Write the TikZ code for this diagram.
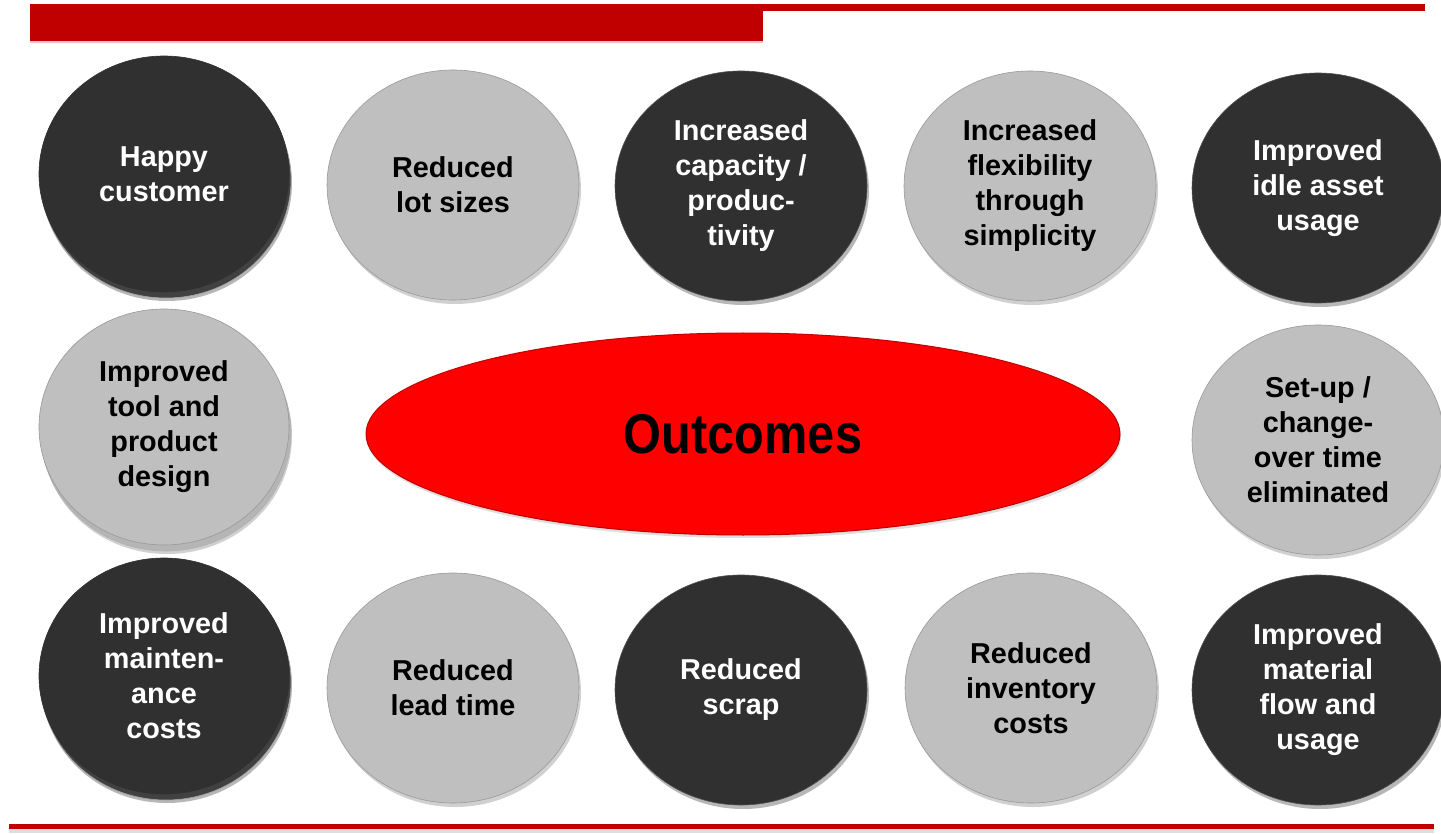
\documentclass[tikz,border=0pt]{standalone}
\usepackage{fontspec}
\usepackage{graphicx}
\setmainfont{Liberation Sans}
\usetikzlibrary{shapes.geometric,shadows}
\definecolor{barred}{HTML}{C00000}
\definecolor{diskdark}{HTML}{303030}
\definecolor{disklight}{HTML}{BFBFBF}
\definecolor{outred}{HTML}{FF0000}
\tikzset{
  disk/.style={ellipse, minimum width=252pt, minimum height=230pt, inner sep=0pt,
    align=center, font=\fontsize{28.8}{35}\selectfont\bfseries},
  darkdisk/.style={disk, fill=diskdark, text=white, draw=diskdark!85!white, line width=0.6pt,
    drop shadow={shadow xshift=2pt, shadow yshift=-4pt, fill=gray!80, opacity=0.7}},
  lightdisk/.style={disk, fill=disklight, text=black, draw=gray!80, line width=0.6pt,
    drop shadow={shadow xshift=2pt, shadow yshift=-4pt, fill=gray!60, opacity=0.6}},
  stackdark/.style={disk, minimum width=250pt, minimum height=236pt, fill=diskdark, text=white,
    draw=diskdark, line width=0.6pt,
    drop shadow={shadow xshift=3pt, shadow yshift=-9pt, fill=gray!80, opacity=0.7},
    copy shadow={shadow xshift=2pt, shadow yshift=-6pt, fill=diskdark!92!white, draw=gray!70}},
  stacklight/.style={disk, minimum width=250pt, minimum height=236pt, fill=disklight, text=black,
    draw=gray!80, line width=0.6pt,
    drop shadow={shadow xshift=3pt, shadow yshift=-9pt, fill=gray!60, opacity=0.6},
    copy shadow={shadow xshift=2pt, shadow yshift=-6pt, fill=disklight!95!black, draw=gray!60}},
  outcome/.style={ellipse, minimum width=754pt, minimum height=202pt, inner sep=0pt,
    fill=outred, draw=outred!75!black, line width=1pt,
    drop shadow={shadow xshift=1pt, shadow yshift=-3pt, fill=gray!50, opacity=0.5},
    font=\fontsize{56}{62}\selectfont\bfseries}
}
\begin{document}
\begin{tikzpicture}[x=1pt,y=-1pt]
  \useasboundingbox (0,0) rectangle (1441,834);
  \fill[white] (0,0) rectangle (1441,834);
  % top bars
  \fill[barred] (30,4) rectangle (1425,11);
  \fill[red!25] (30,41) rectangle (763,43);
  \fill[barred] (30,7) rectangle (763,41);
  % bottom line
  \fill[gray!25] (9,829) rectangle (1434,833);
  \fill[barred] (9,824) rectangle (1434,829);

  % row 1
  \node[stackdark] (hc) at (164,174) {Happy\\customer};
  \node[lightdisk] (rls) at (453,185) {Reduced\\lot sizes};
  \node[darkdisk] (icp) at (741,186) {Increased\\capacity /\\produc-\\tivity};
  \node[lightdisk] (ifs) at (1030,186) {Increased\\flexibility\\through\\simplicity};
  \node[darkdisk] (iia) at (1318,188) {Improved\\idle asset\\usage};
  % row 2
  \node[stacklight] (itp) at (164,427) {Improved\\tool and\\product\\design};
  \node[outcome] (out) at (743,434) {\scalebox{0.87}[1]{Outcomes}};
  \node[lightdisk] (suc) at (1318,440) {Set-up /\\change-\\over time\\eliminated};
  % row 3
  \node[stackdark] (imc) at (164,676) {Improved\\mainten-\\ance\\costs};
  \node[lightdisk] (rlt) at (453,688) {Reduced\\lead time};
  \node[darkdisk] (rs) at (741,690) {Reduced\\scrap};
  \node[lightdisk] (ric) at (1031,688) {Reduced\\inventory\\costs};
  \node[darkdisk] (imf) at (1318,690) {Improved\\material\\flow and\\usage};
\end{tikzpicture}
\end{document}
